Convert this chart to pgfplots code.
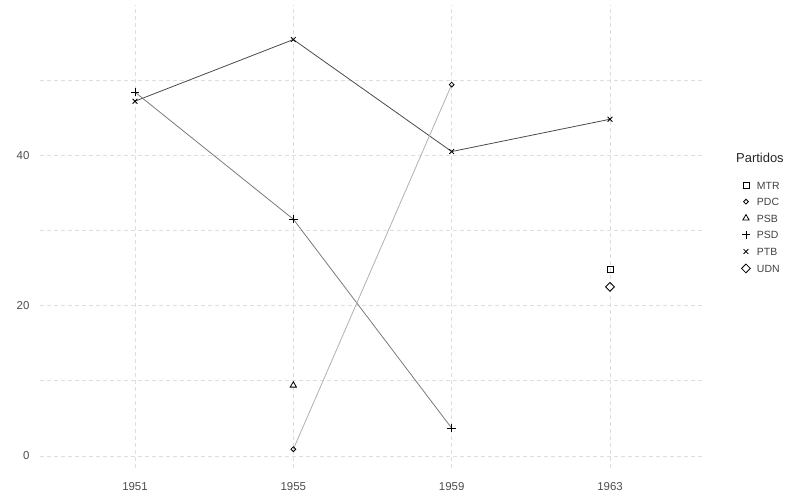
\documentclass[border=0pt]{standalone}
\usepackage{fontspec}
\setmainfont{Liberation Sans}
\usepackage{pgfplots}
\pgfplotsset{compat=1.18}
\definecolor{tickgray}{HTML}{4D4D4D}
\definecolor{gridc}{HTML}{DEDEDE}
\definecolor{lPTB}{HTML}{4A4A4A}
\definecolor{lPSD}{HTML}{7A7A7A}
\definecolor{lPDC}{HTML}{B0B0B0}
\begin{document}
\begin{tikzpicture}[x=1bp,y=1bp]
\useasboundingbox (0,0) rectangle (798,495);
\begin{axis}[
  at={(40bp,27bp)}, anchor=south west,
  scale only axis, width=665bp, height=463bp,
  xmin=-0.6, xmax=3.6, ymin=-1.6, ymax=60,
  axis line style={draw=none},
  major tick length=0pt, minor tick length=0pt,
  xtick={0,1,2,3}, xticklabels={1951,1955,1959,1963},
  ytick={0,20,40}, minor ytick={10,30,50},
  xmajorgrids, ymajorgrids, yminorgrids,
  major grid style={gridc, dash pattern=on 4bp off 3bp, line width=0.7bp},
  minor grid style={gridc, dash pattern=on 4bp off 3bp, line width=0.7bp},
  ticklabel style={font=\fontsize{11.5}{13}\selectfont, text=tickgray},
  /pgf/number format/assume math mode=true,
  yticklabel style={xshift=-7bp},
  xticklabel style={yshift=-11bp},
  clip=false,
  legend cell align=left,
  legend style={at={(1.0541,0.6195)}, anchor=north west, draw=none, fill=none,
    inner sep=0pt, outer sep=0pt,
    font=\fontsize{10.5}{12}\selectfont, text=black!75,
    nodes={inner sep=0pt, text height=8bp, text depth=0bp},
    row sep=8.5bp, column sep=0pt},
  legend image code/.code={\path[draw=none] (0bp,0bp) -- (16bp,0bp); \path[#1] plot[only marks] coordinates {(5bp,0bp)};},
  every axis plot/.append style={line width=0.8bp, mark options={solid, black, line width=0.8bp}},
]
% lines
\addplot[lPTB, forget plot] coordinates {(0,47.2) (1,55.4) (2,40.5) (3,44.8)};
\addplot[lPSD, forget plot] coordinates {(0,48.4) (1,31.5) (2,3.7)};
\addplot[lPDC, forget plot] coordinates {(1,0.9) (2,49.4)};
% points (with legend)
\addplot[only marks, mark=square, mark size=3bp] coordinates {(3,24.8)};
\addlegendentry{MTR}
\addplot[only marks, mark=square, mark size=1.7bp, mark options={rotate=45}] coordinates {(1,0.9) (2,49.4)};
\addlegendentry{PDC}
\addplot[only marks, mark=triangle, mark size=3.6bp] coordinates {(1,9.4)};
\addlegendentry{PSB}
\addplot[only marks, mark=+, mark size=4.2bp] coordinates {(0,48.4) (1,31.5) (2,3.7)};
\addlegendentry{PSD}
\addplot[only marks, mark=x, mark size=3.4bp] coordinates {(0,47.2) (1,55.4) (2,40.5) (3,44.8)};
\addlegendentry{PTB}
\addplot[only marks, mark=square, mark size=3.1bp, mark options={rotate=45}] coordinates {(3,22.5)};
\addlegendentry{UDN}
\node[anchor=west, inner sep=0pt, font=\fontsize{13}{15}\selectfont, text=black!85] at (rel axis cs:1.0466,0.6695) {Partidos};
\end{axis}
\end{tikzpicture}
\end{document}
